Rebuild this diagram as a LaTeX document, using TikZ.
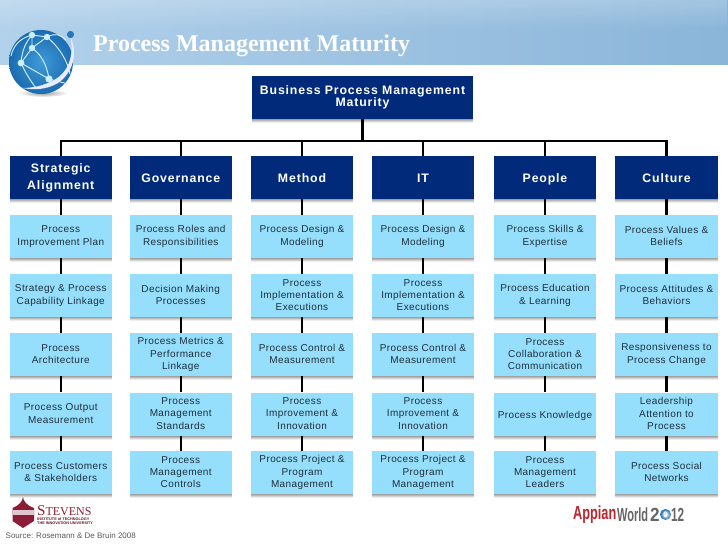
\documentclass[tikz,border=0pt]{standalone}
\usepackage{fontspec}
\setmainfont{Liberation Sans}[LetterSpace=4]
\newfontfamily\headfont{Liberation Sans}[LetterSpace=7]
\newfontfamily\titlefont{Liberation Serif}
\newfontfamily\sourcefont{Liberation Sans}
\usepackage{tikz}
\usetikzlibrary{shadows,fadings}
\usepackage{xcolor}
\definecolor{navybox}{HTML}{012B7A}
\definecolor{skybox}{HTML}{96DFFC}
\definecolor{boxtext}{HTML}{1E2E3C}
\definecolor{stevensred}{HTML}{8C1D36}
\definecolor{appianred}{HTML}{B8262E}
\definecolor{bandleft}{HTML}{B2D1EB}
\definecolor{bandright}{HTML}{8AB5D9}
\definecolor{globelight}{HTML}{3F9AD8}
\definecolor{globedark}{HTML}{1A6CB0}
\definecolor{globeknob}{HTML}{2878B9}

\begin{document}
\begin{tikzpicture}[x=1pt, y=-1pt,
  softshadow/.style={drop shadow={shadow xshift=0pt, shadow yshift=-1pt, opacity=.14, fill=black},
    drop shadow={shadow xshift=0pt, shadow yshift=-2pt, opacity=.13, fill=black},
    drop shadow={shadow xshift=0pt, shadow yshift=-3pt, opacity=.10, fill=black},
    drop shadow={shadow xshift=0pt, shadow yshift=-4pt, opacity=.07, fill=black}},
  headrules/.style={execute at begin node={\rule{0pt}{.95em}}, execute at end node={\rule[-.13em]{0pt}{.13em}}},
  leafrules/.style={execute at begin node={\rule{0pt}{1.1em}}, execute at end node={\rule[-.1em]{0pt}{.1em}}},
  head/.style={rectangle, softshadow, headrules, fill=navybox, text=white, align=center, inner sep=0pt,
    minimum width=102.5pt, minimum height=43pt, font=\headfont\bfseries\fontsize{12.3}{17}\selectfont},
  rootbox/.style={head, minimum width=221pt, font=\headfont\bfseries\fontsize{12.3}{11}\selectfont},
  leaf/.style={rectangle, softshadow, leafrules, fill=skybox, text=boxtext, align=center, inner sep=0pt,
    minimum width=102.5pt, minimum height=43pt, font=\fontsize{10}{12.2}\selectfont},
  link/.style={line width=2.5pt, draw=black},
  logotext/.style={inner sep=0pt, anchor=west, transform shape, font=\sourcefont\bfseries\fontsize{19}{19}\selectfont},
  globeline/.style={white!85!cyan, line width=.9pt}
]
\useasboundingbox (0,0) rectangle (728,546);
% title band
\shade[left color=bandleft, right color=bandright] (0,0) rectangle (728,64);
\fill[white, opacity=.22, path fading=south] (0,0) rectangle (728,30);
\node[inner sep=0pt, anchor=west, text=white, font=\titlefont\bfseries\fontsize{24}{24}\selectfont] (title) at (93,46) {Process Management Maturity};
% globe
\shade[inner color=black!55, outer color=white, opacity=.7] (43,93) ellipse (25 and 4);
\shade[inner color=globelight, outer color=globedark] (41,62) circle (32);
\draw[globeline] (32,35) -- (47,37) -- (32,48) -- (21,63) -- (49,79) -- (68,84);
\draw[globeline] (32,35) -- (32,48) (47,37) .. controls (60,48) and (68,62) .. (70,74);
\draw[globeline] (32,48) .. controls (42,55) and (47,66) .. (49,79);
\draw[globeline] (21,63) .. controls (22,50) and (26,42) .. (32,35);
\draw[globeline] (21,63) .. controls (25,72) and (30,80) .. (36,88);
\draw[globeline] (32,35) .. controls (20,38) and (13,46) .. (11,56);
\draw[globeline] (47,37) .. controls (55,33) and (60,34) .. (66,40);
\foreach \gx/\gy/\gr in {32/35/3.2, 47/37/3.2, 32/48/3.2, 21/63/3.4, 49/79/3.6}
  \fill[white!80!cyan] (\gx,\gy) circle (\gr);
\fill[white!92!blue] (70,36) .. controls (78,52) and (74,72) .. (58,83) .. controls (46,90) and (34,90) .. (22,88)
  .. controls (36,88) and (50,84) .. (60,76) .. controls (71,66) and (74,50) .. (70,36) -- cycle;
\fill[globeknob] (70.5,34.5) circle (3.6);
% boxes
\node[rootbox] (root) at (362.5,97.5) {Business Process Management\\Maturity};

\node[head] (h1) at (60.75,177.5) {Strategic\\Alignment};
\node[head] (h2) at (180.75,177.5) {Governance};
\node[head] (h3) at (302,177.5) {Method};
\node[head] (h4) at (423,177.5) {IT};
\node[head] (h5) at (545,177.5) {People};
\node[head] (h6) at (666.5,177.5) {Culture};

\node[leaf] (n11) at (60.75,236.5) {Process\\Improvement Plan};
\node[leaf] (n12) at (60.75,295.5) {Strategy \& Process\\Capability Linkage};
\node[leaf] (n13) at (60.75,354.5) {Process\\Architecture};
\node[leaf] (n14) at (60.75,414) {Process Output\\Measurement};
\node[leaf] (n15) at (60.75,472.5) {Process Customers\\\& Stakeholders};

\node[leaf] (n21) at (180.75,236.5) {Process Roles and\\Responsibilities};
\node[leaf] (n22) at (180.75,295.5) {Decision Making\\Processes};
\node[leaf] (n23) at (180.75,354.5) {Process Metrics \&\\Performance\\Linkage};
\node[leaf] (n24) at (180.75,414) {Process\\Management\\Standards};
\node[leaf] (n25) at (180.75,472.5) {Process\\Management\\Controls};

\node[leaf] (n31) at (302,236.5) {Process Design \&\\Modeling};
\node[leaf] (n32) at (302,295.5) {Process\\Implementation \&\\Executions};
\node[leaf] (n33) at (302,354.5) {Process Control \&\\Measurement};
\node[leaf] (n34) at (302,414) {Process\\Improvement \&\\Innovation};
\node[leaf] (n35) at (302,472.5) {Process Project \&\\Program\\Management};

\node[leaf] (n41) at (423,236.5) {Process Design \&\\Modeling};
\node[leaf] (n42) at (423,295.5) {Process\\Implementation \&\\Executions};
\node[leaf] (n43) at (423,354.5) {Process Control \&\\Measurement};
\node[leaf] (n44) at (423,414) {Process\\Improvement \&\\Innovation};
\node[leaf] (n45) at (423,472.5) {Process Project \&\\Program\\Management};

\node[leaf] (n51) at (545,236.5) {Process Skills \&\\Expertise};
\node[leaf] (n52) at (545,295.5) {Process Education\\\& Learning};
\node[leaf] (n53) at (545,354.5) {Process\\Collaboration \&\\Communication};
\node[leaf] (n54) at (545,414) {Process Knowledge};
\node[leaf] (n55) at (545,472.5) {Process\\Management\\Leaders};

\node[leaf] (n61) at (666.5,236.5) {Process Values \&\\Beliefs};
\node[leaf] (n62) at (666.5,295.5) {Process Attitudes \&\\Behaviors};
\node[leaf] (n63) at (666.5,354.5) {Responsiveness to\\Process Change};
\node[leaf] (n64) at (666.5,414) {Leadership\\Attention to\\Process};
\node[leaf] (n65) at (666.5,472.5) {Process Social\\Networks};
% connectors
\coordinate (bus) at (362.5,141);
\draw[link] (root.south) -- (bus);
\draw[link] (h1.north) -- (bus -| h1.north) -- (bus -| h6.north) -- (h6.north);
\draw[link] (bus -| h2.north) -- (h2.north);
\draw[link] (bus -| h3.north) -- (h3.north);
\draw[link] (bus -| h4.north) -- (h4.north);
\draw[link] (bus -| h5.north) -- (h5.north);
\draw[link] (h1) -- (n11) (n11) -- (n12) (n12) -- (n13) (n13) -- (n14) (n14) -- (n15);
\draw[link] (h2) -- (n21) (n21) -- (n22) (n22) -- (n23) (n23) -- (n24) (n24) -- (n25);
\draw[link] (h3) -- (n31) (n31) -- (n32) (n32) -- (n33) (n33) -- (n34) (n34) -- (n35);
\draw[link] (h4) -- (n41) (n41) -- (n42) (n42) -- (n43) (n43) -- (n44) (n44) -- (n45);
\draw[link] (h5) -- (n51) (n51) -- (n52) (n52) -- (n53) (n53) -- (n54) (n54) -- (n55);
\draw[link] (h6) -- (n61) (n61) -- (n62) (n62) -- (n63) (n63) -- (n64) (n64) -- (n65);
% stevens logo
\fill[stevensred] (23,497) .. controls (23.5,501) and (26,505) .. (34,508) -- (34,521) -- (23,528) -- (12.5,521) -- (12.5,508) .. controls (20,505) and (22.5,501) .. (23,497) -- cycle;
\fill[white!75!stevensred] (12.5,510) -- (34,510) -- (34,514.5) -- (12.5,514.5) -- cycle;
\node[inner sep=0pt, anchor=west, text=stevensred, font=\titlefont\fontsize{15}{15}\selectfont] (stevens) at (37,511) {S\fontsize{12}{15}\selectfont TEVENS};
\node[inner sep=0pt, anchor=west, text=stevensred!70!black, align=left, font=\sourcefont\bfseries\fontsize{3.8}{3.9}\selectfont] (motto) at (37,521.5) {INSTITUTE of TECHNOLOGY\\THE INNOVATION UNIVERSITY};
\node[inner sep=0pt, anchor=west, text=black!65, font=\sourcefont\fontsize{8}{8}\selectfont] (source) at (5.5,536) {Source: Rosemann \& De Bruin 2008};
% appian logo
\node[logotext, xscale=.67, text=appianred] (appian) at (573,514.5) {Appian};
\node[logotext, xscale=.58, text=black!60] (world) at (617,514.5) {World};
\node[logotext, xscale=.9, text=black!60] (twoa) at (650,514.5) {2};
\shade[inner color=white, outer color=globedark] (665.5,514.5) circle (5.5);
\node[inner sep=0pt, text=white, font=\sourcefont\bfseries\fontsize{8}{8}\selectfont] (zero) at (665.5,514.5) {0};
\node[logotext, xscale=.62, text=black!60] (twob) at (671,514.5) {12};
\end{tikzpicture}
\end{document}
